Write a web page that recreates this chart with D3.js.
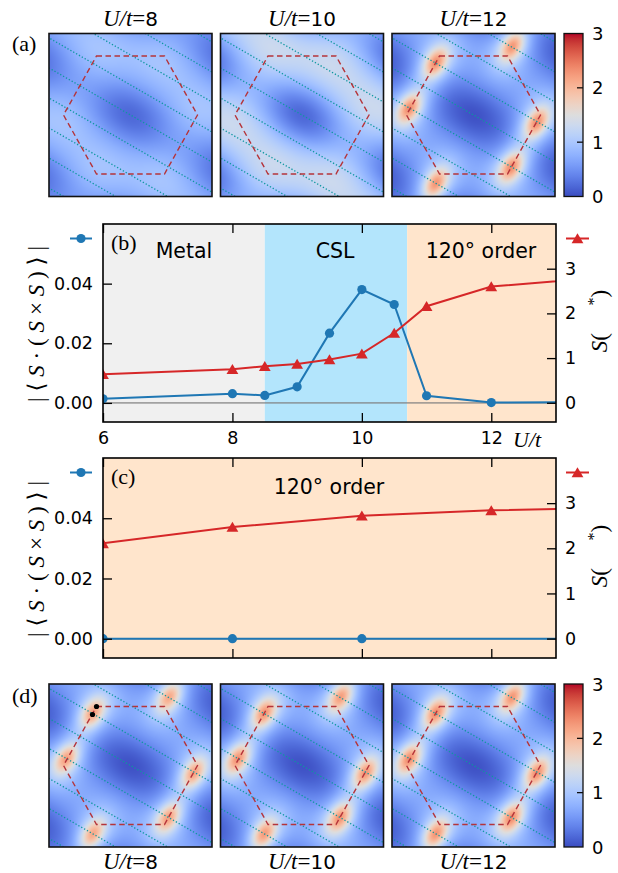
<!DOCTYPE html>
<html>
<head>
<meta charset="utf-8">
<script src="https://cdn.jsdelivr.net/npm/d3@7"></script>
<style>
  body { margin: 0; background: #fff; }
  svg { display: block; }
</style>
</head>
<body>
<svg id="fig" width="618" height="873"></svg>
<script>
// ---------- data ----------
// panel (b)
var uB = [6, 8, 8.5, 9, 9.5, 10, 10.5, 11, 12, 14];
var chiralB = [0.0014, 0.0031, 0.0025, 0.0054, 0.0234, 0.0380, 0.0330, 0.0024, 0.0001, 0.0004];
var sB = [0.64, 0.75, 0.82, 0.87, 0.97, 1.10, 1.56, 2.16, 2.60, 2.84];
// panel (c)
var uCchiral = [6, 8, 10, 14];
var chiralC = [0, 0, 0, 0];
var uCs = [6, 8, 10, 12, 14];
var sC = [2.11, 2.47, 2.72, 2.84, 2.90];
// phases of panel (b)
var phaseNames = ['Metal', 'CSL', '120\u00b0 order'];
var phaseFrom = [6, 8.5, 10.7];
var phaseTo = [8.5, 10.7, 13];
// ticks
var xTicks = [6, 8, 10, 12];
var leftTicks = [0, 0.02, 0.04];
var rightTicks = [0, 1, 2, 3];
var cbTicks = [0, 1, 2, 3];
// structure factor maps, (a) and (d) for U/t = 8, 10, 12
var mapU = [8, 10, 12];
// Brillouin zone corners (px from the centre of a map)
var hexX = [-34, 34, 67, 34, -34, -67];
var hexY = [-59, -59, 0, 59, 59, 0];
// zone centres, the one in the middle and the neighbours
var gamX = [0, 0, 100.5, 100.5, 0, -100.5, -100.5];
var gamY = [0, -116, -58, 58, 116, 58, -58];
// Bragg peaks (px from the centre of a map)
var peakX = [-38, 39, 63, 38, -38, -64];
var peakY = [-52, -69, 8, 52, 69, -7];
var peakAmpA = [0, 0, 1.75];
var peakAmpD = [1.6, 1.7, 1.75];
var baseA = [0.95, 1.35, 0.8];
var baseD = [0.8, 0.8, 0.8];
var dipA = [0.75, 1.15, 0.75];
var dipD = [0.75, 0.75, 0.75];
var bumpA = [0.15, 0.15, 0];
var bumpD = [0, 0, 0];
// marked points in (d), U/t=8
var dotX = [-34, -38];
var dotY = [-59, -51];

// coolwarm colour table
var cwStops = [
  [59, 76, 192], [68, 90, 204], [77, 104, 215], [87, 117, 225], [98, 130, 234],
  [108, 142, 241], [119, 154, 247], [130, 165, 251], [141, 176, 254], [152, 185, 255],
  [163, 194, 255], [174, 201, 253], [184, 208, 249], [194, 213, 244], [204, 217, 238],
  [213, 219, 230], [221, 221, 221], [229, 216, 209], [236, 211, 197], [241, 204, 184],
  [245, 196, 172], [247, 187, 159], [247, 177, 147], [247, 166, 134], [244, 154, 123],
  [241, 141, 111], [236, 127, 99], [229, 112, 88], [222, 96, 77], [213, 80, 66],
  [203, 62, 56], [192, 40, 47], [180, 4, 38]
];
var cwColors = cwStops.map(function(c) { return d3.rgb(c[0], c[1], c[2]).toString(); });
var color = d3.scaleLinear()
  .domain(cwColors.map(function(c, i) { return 3 * i / (cwColors.length - 1); }))
  .range(cwColors)
  .clamp(true);

var sans = '"DejaVu Sans", sans-serif';
var serif = '"Liberation Serif", "DejaVu Serif", serif';
var blue = '#1f77b4';
var red = '#d62728';

var svg = d3.select('#fig');
var defs = svg.append('defs');

// ---------- maps ----------
var sqX = [49, 220.5, 392];
var sqSize = 163;
var cbX = 564, cbW = 19;

function field(x, y, base, dip, bump, amp) {
  var v = base;
  var c30 = Math.cos(Math.PI / 6), s30 = Math.sin(Math.PI / 6);
  for (var i = 0; i < gamX.length; i++) {
    var dx = x - gamX[i], dy = y - gamY[i];
    var p = dx * c30 + dy * s30, q = -dx * s30 + dy * c30;
    v -= dip * Math.exp(-0.5 * (p * p / 1300 + q * q / 560));
  }
  for (var k = 0; k < hexX.length; k++) {
    var ex = x - hexX[k], ey = y - hexY[k];
    v += bump * Math.exp(-0.5 * (ex * ex + ey * ey) / 484);
  }
  if (amp > 0) {
    var a = -58 * Math.PI / 180, ca = Math.cos(a), sa = Math.sin(a);
    for (var j = 0; j < peakX.length; j++) {
      var fx = x - peakX[j], fy = y - peakY[j];
      var pp = fx * ca + fy * sa, qq = -fx * sa + fy * ca;
      v += amp * (0.6 * Math.exp(-0.5 * (pp * pp / 120 + qq * qq / 45)) +
                  0.4 * Math.exp(-0.5 * (pp * pp / 400 + qq * qq / 160)));
    }
  }
  return v;
}

function mapImage(base, dip, bump, amp) {
  var cv = document.createElement('canvas');
  cv.width = sqSize; cv.height = sqSize;
  var ctx = cv.getContext('2d');
  var img = ctx.createImageData(sqSize, sqSize);
  var h = sqSize / 2;
  for (var j = 0; j < sqSize; j++) {
    for (var i = 0; i < sqSize; i++) {
      var c = d3.rgb(color(field(i + 0.5 - h, j + 0.5 - h, base, dip, bump, amp)));
      var o = 4 * (j * sqSize + i);
      img.data[o] = c.r; img.data[o + 1] = c.g; img.data[o + 2] = c.b; img.data[o + 3] = 255;
    }
  }
  ctx.putImageData(img, 0, 0);
  return cv.toDataURL();
}

var lineOffsets = d3.range(-4, 5);

function drawMap(x0, y0, id, base, dip, bump, amp, dots) {
  var g = svg.append('g').attr('transform', 'translate(' + x0 + ',' + y0 + ')');
  defs.append('clipPath').attr('id', id)
    .append('rect').attr('width', sqSize).attr('height', sqSize);
  var inner = g.append('g').attr('clip-path', 'url(#' + id + ')');
  inner.append('image')
    .attr('width', sqSize).attr('height', sqSize)
    .attr('href', mapImage(base, dip, bump, amp));
  var h = sqSize / 2;
  // dotted cuts along 30 degrees
  inner.selectAll('line.cut').data(lineOffsets).enter()
    .append('line')
    .attr('class', 'cut')
    .attr('x1', function(k) { return h - 0.5 * 26 * k - 0.866 * 200; })
    .attr('y1', function(k) { return h + 0.866 * 26 * k - 0.5 * 200; })
    .attr('x2', function(k) { return h - 0.5 * 26 * k + 0.866 * 200; })
    .attr('y2', function(k) { return h + 0.866 * 26 * k + 0.5 * 200; })
    .attr('stroke', '#0e979f')
    .attr('stroke-width', 1.3)
    .attr('stroke-dasharray', '1.3,2');
  // Brillouin zone
  inner.append('path')
    .attr('d', d3.line()(hexX.map(function(v, i) { return [h + v, h + hexY[i]]; })) + 'Z')
    .attr('fill', 'none')
    .attr('stroke', '#b5343a')
    .attr('stroke-width', 1.4)
    .attr('stroke-dasharray', '5.5,3.5');
  if (dots) {
    inner.selectAll('circle').data(dotX).enter()
      .append('circle')
      .attr('cx', function(d) { return h + d; })
      .attr('cy', function(d, i) { return h + dotY[i]; })
      .attr('r', 2.6)
      .attr('fill', '#000');
  }
  g.append('rect')
    .attr('width', sqSize).attr('height', sqSize)
    .attr('fill', 'none').attr('stroke', '#111').attr('stroke-width', 1.6);
}

function mapTitle(x, y, u) {
  var t = svg.append('text')
    .attr('x', x).attr('y', y)
    .attr('text-anchor', 'middle')
    .attr('font-size', 23);
  t.append('tspan').attr('font-family', serif).attr('font-style', 'italic').text('U/t');
  t.append('tspan').attr('font-family', serif).text('=');
  t.append('tspan').attr('font-family', sans).attr('font-size', 20).text(u);
}

var grad = defs.append('linearGradient').attr('id', 'cw')
  .attr('x1', 0).attr('y1', 1).attr('x2', 0).attr('y2', 0);
grad.selectAll('stop').data(cwColors).enter().append('stop')
  .attr('offset', function(d, i) { return i / (cwColors.length - 1); })
  .attr('stop-color', function(d) { return d; });

function colorbar(y0) {
  var g = svg.append('g').attr('transform', 'translate(' + cbX + ',' + y0 + ')');
  g.append('rect').attr('width', cbW).attr('height', sqSize).attr('fill', 'url(#cw)');
  var cy = d3.scaleLinear().domain([0, 3]).range([sqSize, 0]);
  g.selectAll('line.t').data(cbTicks.slice(1, 3)).enter().append('line')
    .attr('x1', cbW - 6).attr('x2', cbW)
    .attr('y1', cy).attr('y2', cy)
    .attr('stroke', '#000').attr('stroke-width', 1.2);
  g.selectAll('text').data(cbTicks).enter().append('text')
    .attr('x', cbW + 9)
    .attr('y', function(d) { return cy(d) + 6.5; })
    .attr('font-family', sans).attr('font-size', 18)
    .text(function(d) { return d; });
  g.append('rect').attr('width', cbW).attr('height', sqSize)
    .attr('fill', 'none').attr('stroke', '#111').attr('stroke-width', 1.3);
}

mapU.forEach(function(u, i) {
  drawMap(sqX[i], 33.5, 'ca' + i, baseA[i], dipA[i], bumpA[i], peakAmpA[i], false);
  mapTitle(sqX[i] + sqSize / 2, 26, u);
  drawMap(sqX[i], 684, 'cd' + i, baseD[i], dipD[i], bumpD[i], peakAmpD[i], i === 0);
  mapTitle(sqX[i] + sqSize / 2, 869, u);
});
colorbar(33.5);
colorbar(684);

svg.append('text').attr('x', 12).attr('y', 51)
  .attr('font-family', serif).attr('font-size', 22).text('(a)');
svg.append('text').attr('x', 12).attr('y', 703)
  .attr('font-family', serif).attr('font-size', 22).text('(d)');

// ---------- line panels ----------
var px0 = 103, px1 = 556;
var x = d3.scaleLinear().domain([6, 13]).range([px0, px1]);

function linePanel(top, bottom, id, label, opts) {
  var yl = d3.scaleLinear().domain([-0.0064, 0.0600]).range([bottom, top]);
  var yr = d3.scaleLinear().domain([-0.43, 4.0]).range([bottom, top]);
  var w = px1 - px0, hgt = bottom - top;
  defs.append('clipPath').attr('id', id)
    .append('rect').attr('x', px0).attr('y', top).attr('width', w).attr('height', hgt);
  var plot = svg.append('g').attr('clip-path', 'url(#' + id + ')');

  opts.background(plot, yl);

  // zero reference line
  plot.append('line')
    .attr('x1', px0).attr('x2', px1)
    .attr('y1', yl(0)).attr('y2', yl(0))
    .attr('stroke', '#808080').attr('stroke-opacity', 0.7).attr('stroke-width', 1.6);

  // chirality, left axis
  var lc = d3.line().x(function(d) { return x(d[0]); }).y(function(d) { return yl(d[1]); });
  var chir = opts.chiralU.map(function(u, i) { return [u, opts.chiral[i]]; });
  plot.append('path').attr('d', lc(chir))
    .attr('fill', 'none').attr('stroke', blue).attr('stroke-width', 2);
  plot.selectAll('circle.c').data(chir).enter().append('circle')
    .attr('class', 'c')
    .attr('cx', function(d) { return x(d[0]); })
    .attr('cy', function(d) { return yl(d[1]); })
    .attr('r', 4.6).attr('fill', blue);

  // structure factor, right axis
  var ls = d3.line().x(function(d) { return x(d[0]); }).y(function(d) { return yr(d[1]); });
  var sf = opts.sU.map(function(u, i) { return [u, opts.s[i]]; });
  plot.append('path').attr('d', ls(sf))
    .attr('fill', 'none').attr('stroke', red).attr('stroke-width', 2);
  plot.selectAll('path.t').data(sf).enter().append('path')
    .attr('class', 't')
    .attr('transform', function(d) { return 'translate(' + x(d[0]) + ',' + yr(d[1]) + ')'; })
    .attr('d', 'M0,-5.2L5.9,4.8L-5.9,4.8Z')
    .attr('fill', red);

  // axes with inward ticks
  var gl = svg.append('g').attr('transform', 'translate(' + px0 + ',0)')
    .call(d3.axisLeft(yl).tickValues(leftTicks).tickFormat(d3.format('.2f'))
      .tickSizeInner(-9).tickSizeOuter(0).tickPadding(10));
  var gr = svg.append('g').attr('transform', 'translate(' + px1 + ',0)')
    .call(d3.axisRight(yr).tickValues(rightTicks).tickFormat(d3.format('d'))
      .tickSizeInner(-9).tickSizeOuter(0).tickPadding(9));
  var gt = svg.append('g').attr('transform', 'translate(0,' + top + ')')
    .call(d3.axisTop(x).tickValues(xTicks).tickFormat('').tickSizeInner(-9).tickSizeOuter(0));
  var gb = svg.append('g').attr('transform', 'translate(0,' + bottom + ')')
    .call(d3.axisBottom(x).tickValues(xTicks).tickFormat(opts.xLabels ? d3.format('d') : '')
      .tickSizeInner(-9).tickSizeOuter(0).tickPadding(10));
  [gl, gr, gt, gb].forEach(function(g) {
    g.select('.domain').remove();
    g.attr('font-family', sans).attr('font-size', 17.5);
    g.selectAll('.tick line').attr('stroke', '#000').attr('stroke-width', 1.3);
    g.selectAll('.tick text').attr('fill', '#000');
  });

  svg.append('rect').attr('x', px0).attr('y', top).attr('width', w).attr('height', hgt)
    .attr('fill', 'none').attr('stroke', '#000').attr('stroke-width', 1.6);

  // legend handles outside the frame
  var ly = top + 14.5;
  svg.append('line').attr('x1', 70).attr('x2', 92).attr('y1', ly).attr('y2', ly)
    .attr('stroke', blue).attr('stroke-width', 2);
  svg.append('circle').attr('cx', 81).attr('cy', ly).attr('r', 4.6).attr('fill', blue);
  svg.append('line').attr('x1', 566).attr('x2', 589).attr('y1', ly).attr('y2', ly)
    .attr('stroke', red).attr('stroke-width', 2);
  svg.append('path').attr('transform', 'translate(577.5,' + ly + ')')
    .attr('d', 'M0,-5.2L5.9,4.8L-5.9,4.8Z').attr('fill', red);

  // panel letter
  svg.append('text').attr('x', 111).attr('y', top + 26)
    .attr('font-family', serif).attr('font-size', 22).text(label);

  // axis titles, both read bottom to top
  var mid = (top + bottom) / 2 + 1;
  var tl = svg.append('text')
    .attr('transform', 'translate(44,' + mid + ') rotate(-90)')
    .attr('text-anchor', 'middle')
    .attr('font-family', serif).attr('font-size', 23)
    .attr('textLength', 156).attr('lengthAdjust', 'spacing');
  tl.append('tspan').text('|\u27e8');
  tl.append('tspan').attr('font-style', 'italic').text('S');
  tl.append('tspan').text('\u00b7(');
  tl.append('tspan').attr('font-style', 'italic').text('S');
  tl.append('tspan').text('\u00d7');
  tl.append('tspan').attr('font-style', 'italic').text('S');
  tl.append('tspan').text(')\u27e9|');

  var tr = svg.append('text')
    .attr('transform', 'translate(607,' + (mid - 3) + ') rotate(-90)')
    .attr('text-anchor', 'middle')
    .attr('font-family', serif).attr('font-size', 23);
  tr.append('tspan').attr('font-style', 'italic').text('S');
  tr.append('tspan').text('(\u2003\u2009');
  tr.append('tspan').attr('font-size', 16).attr('dy', -8).text('*');
  tr.append('tspan').attr('dy', 8).text(')');
}

linePanel(224, 422, 'cb', '(b)', {
  chiralU: uB, chiral: chiralB, sU: uB, s: sB, xLabels: true,
  background: function(plot) {
    var fills = ['#f0f0f0', '#b3e5fc', '#ffe5cc'];
    plot.selectAll('rect.ph').data(phaseNames).enter().append('rect')
      .attr('class', 'ph')
      .attr('x', function(d, i) { return x(phaseFrom[i]); })
      .attr('width', function(d, i) { return x(phaseTo[i]) - x(phaseFrom[i]); })
      .attr('y', 224).attr('height', 198)
      .attr('fill', function(d, i) { return fills[i]; });
  }
});
svg.selectAll('text.phase').data(phaseNames).enter().append('text')
  .attr('class', 'phase')
  .attr('x', function(d, i) { return [184, 335, 481][i]; })
  .attr('y', 258)
  .attr('text-anchor', 'middle')
  .attr('font-family', sans).attr('font-size', 20.5)
  .text(function(d) { return d; });
svg.append('text').attr('x', 513).attr('y', 447)
  .attr('font-family', serif).attr('font-style', 'italic').attr('font-size', 22).text('U/t');

linePanel(458, 658, 'cc', '(c)', {
  chiralU: uCchiral, chiral: chiralC, sU: uCs, s: sC, xLabels: false,
  background: function(plot) {
    plot.append('rect').attr('x', px0).attr('y', 458)
      .attr('width', px1 - px0).attr('height', 200).attr('fill', '#ffe5cc');
  }
});
svg.append('text').attr('x', 329).attr('y', 494)
  .attr('text-anchor', 'middle')
  .attr('font-family', sans).attr('font-size', 20.5)
  .text(phaseNames[2]);
</script>
</body>
</html>
